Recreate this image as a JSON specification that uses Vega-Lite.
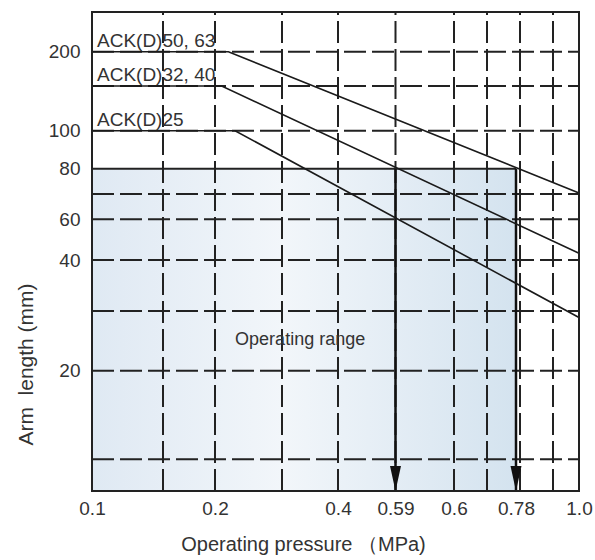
{
  "$schema": "https://vega.github.io/schema/vega-lite/v6.json",
  "width": 487,
  "height": 479,
  "autosize": {"type": "none"},
  "padding": {"left": 92, "top": 12, "right": 16, "bottom": 69},
  "background": "white",
  "config": {
    "view": {"stroke": null},
    "font": "Liberation Sans Narrow, Liberation Sans, sans-serif"
  },
  "datasets": {
    "shade": [{"p": 0.1, "p2": 0.78, "L": 5, "L2": 80}],
    "vgrid": [
      {"p": 0.15, "L": 5, "L2": 300}, {"p": 0.2, "L": 5, "L2": 300}, {"p": 0.3, "L": 5, "L2": 300},
      {"p": 0.4, "L": 5, "L2": 300}, {"p": 0.59, "L": 5, "L2": 300}, {"p": 0.6, "L": 5, "L2": 300},
      {"p": 0.7, "L": 5, "L2": 300}, {"p": 0.8, "L": 5, "L2": 300}, {"p": 0.9, "L": 5, "L2": 300}
    ],
    "hgrid": [
      {"L": 10, "p": 0.1, "p2": 1.0}, {"L": 20, "p": 0.1, "p2": 1.0}, {"L": 30, "p": 0.1, "p2": 1.0},
      {"L": 40, "p": 0.1, "p2": 1.0}, {"L": 60, "p": 0.1, "p2": 1.0}, {"L": 70, "p": 0.1, "p2": 1.0},
      {"L": 100, "p": 0.1, "p2": 1.0}, {"L": 150, "p": 0.1, "p2": 1.0}, {"L": 200, "p": 0.1, "p2": 1.0}
    ],
    "rangeTop": [{"p": 0.1, "p2": 0.78, "L": 80}],
    "drops": [{"p": 0.59, "L": 5, "L2": 80}, {"p": 0.78, "L": 5, "L2": 80}],
    "series": [
      {"model": "ACK(D)50, 63", "p": 0.1, "L": 200},
      {"model": "ACK(D)50, 63", "p": 0.22, "L": 200},
      {"model": "ACK(D)50, 63", "p": 1.0, "L": 70.4},
      {"model": "ACK(D)32, 40", "p": 0.1, "L": 150},
      {"model": "ACK(D)32, 40", "p": 0.21, "L": 150},
      {"model": "ACK(D)32, 40", "p": 1.0, "L": 43.3},
      {"model": "ACK(D)25", "p": 0.1, "L": 100},
      {"model": "ACK(D)25", "p": 0.23, "L": 100},
      {"model": "ACK(D)25", "p": 1.0, "L": 28.9}
    ],
    "labels": [
      {"name": "ACK(D)50, 63", "p": 0.1, "L": 200},
      {"name": "ACK(D)32, 40", "p": 0.1, "L": 150},
      {"name": "ACK(D)25", "p": 0.1, "L": 100}
    ],
    "areaLabel": [{"name": "Operating range", "p": 0.23, "L": 24.3}],
    "frame": [{"p": 0.1, "p2": 1.0, "L": 5, "L2": 300}]
  },
  "encoding": {
    "x": {
      "field": "p",
      "type": "quantitative",
      "scale": {
        "domain": [0.1, 0.15, 0.2, 0.3, 0.4, 0.59, 0.6, 0.7, 0.78, 0.8, 0.9, 1.0],
        "range": [0, 71, 123, 190, 246, 303.5, 362, 395, 424, 428, 461, 487],
        "zero": false,
        "nice": false
      },
      "axis": {
        "values": [0.1, 0.2, 0.4, 0.59, 0.6, 0.78, 1.0],
        "labelExpr": "datum.value == 1 ? '1.0' : '' + datum.value",
        "domain": false,
        "ticks": false,
        "grid": false,
        "labelPadding": 8,
        "labelFontSize": 19,
        "labelColor": "#333",
        "labelDx": -2,
        "labelFlush": false,
        "labelOverlap": false,
        "title": "Operating pressure （MPa)",
        "titleFontSize": 20,
        "titleFontWeight": "normal",
        "titleColor": "#333",
        "titleX": 211,
        "titleY": 59,
        "titleAlign": "center",
        "titleBaseline": "alphabetic"
      }
    },
    "y": {
      "field": "L",
      "type": "quantitative",
      "scale": {
        "domain": [5, 10, 20, 30, 40, 60, 70, 80, 100, 150, 200, 300],
        "range": [479, 447.3, 358.7, 299, 248, 207.3, 182, 156.7, 118.7, 74, 39.7, 0],
        "zero": false,
        "nice": false
      },
      "axis": {
        "values": [20, 40, 60, 80, 100, 200],
        "domain": false,
        "ticks": false,
        "grid": false,
        "labelPadding": 12,
        "labelFontSize": 19,
        "labelColor": "#333",
        "labelOverlap": false,
        "labelFlush": false,
        "title": "Arm\u00a0 length (mm)",
        "titleFontSize": 21,
        "titleFontWeight": "normal",
        "titleColor": "#333",
        "titleX": -60,
        "titleY": 352,
        "titleAlign": "center",
        "titleBaseline": "alphabetic"
      }
    }
  },
  "layer": [
    {
      "data": {"name": "shade"},
      "mark": {
        "type": "rect",
        "fill": {
          "gradient": "linear", "x1": 0, "y1": 0, "x2": 1, "y2": 0,
          "stops": [
            {"offset": 0, "color": "#dfe9f3"},
            {"offset": 0.45, "color": "#f2f6fa"},
            {"offset": 1, "color": "#d4e3ef"}
          ]
        },
        "strokeWidth": 0
      },
      "encoding": {"x2": {"field": "p2"}, "y2": {"field": "L2"}}
    },
    {
      "data": {"name": "vgrid"},
      "mark": {"type": "rule", "color": "#222", "strokeWidth": 2, "strokeDash": [22, 6]},
      "encoding": {"y2": {"field": "L2"}}
    },
    {
      "data": {"name": "hgrid"},
      "mark": {"type": "rule", "color": "#222", "strokeWidth": 2, "strokeDash": [22, 6]},
      "encoding": {"x2": {"field": "p2"}}
    },
    {
      "data": {"name": "rangeTop"},
      "mark": {"type": "rule", "color": "#222", "strokeWidth": 2},
      "encoding": {"x2": {"field": "p2"}}
    },
    {
      "data": {"name": "drops"},
      "mark": {"type": "rule", "color": "#111", "strokeWidth": 2.5},
      "encoding": {"y2": {"field": "L2"}}
    },
    {
      "data": {"name": "series"},
      "mark": {"type": "line", "color": "#1a1a1a", "strokeWidth": 1.6},
      "encoding": {"detail": {"field": "model"}}
    },
    {
      "data": {"name": "drops"},
      "mark": {
        "type": "point",
        "shape": "M-0.55,-2.5L0.55,-2.5L0,0Z",
        "size": 400,
        "filled": true,
        "color": "#111",
        "opacity": 1,
        "strokeWidth": 0
      },
      "encoding": {}
    },
    {
      "data": {"name": "labels"},
      "mark": {"type": "text", "align": "left", "baseline": "alphabetic", "dx": 5, "dy": -5, "fontSize": 19, "color": "#333"},
      "encoding": {"text": {"field": "name"}}
    },
    {
      "data": {"name": "areaLabel"},
      "mark": {"type": "text", "align": "left", "baseline": "alphabetic", "fontSize": 18, "color": "#333"},
      "encoding": {"text": {"field": "name"}}
    },
    {
      "data": {"name": "frame"},
      "mark": {"type": "rect", "filled": false, "stroke": "#222", "strokeWidth": 2, "fill": null},
      "encoding": {"x2": {"field": "p2"}, "y2": {"field": "L2"}}
    }
  ]
}
